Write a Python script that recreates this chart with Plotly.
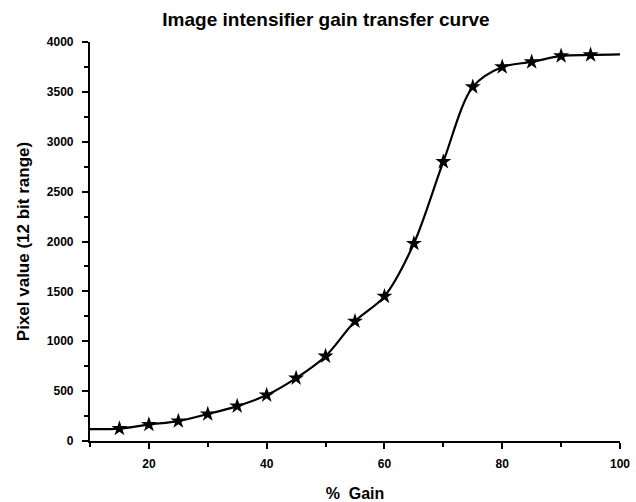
import plotly.graph_objects as go

# Data
gain_pct = [10, 15, 20, 25, 30, 35, 40, 45, 50, 55, 60, 65, 70, 75, 80, 85, 90, 95, 100]
pixel_value = [120, 125, 165, 200, 270, 350, 460, 630, 850, 1200, 1450, 1980, 2800, 3550, 3750, 3800, 3860, 3870, 3875]
marker_gain = [15, 20, 25, 30, 35, 40, 45, 50, 55, 60, 65, 70, 75, 80, 85, 90, 95]
marker_value = [125, 165, 200, 270, 350, 460, 630, 850, 1200, 1450, 1980, 2800, 3550, 3750, 3800, 3860, 3870]

title_text = "Image intensifier gain transfer curve"
x_title = "%  Gain"
y_title = "Pixel value (12 bit range)"

FONT = "Liberation Sans, Arial, sans-serif"

fig = go.Figure()
fig.add_trace(go.Scatter(
    x=gain_pct, y=pixel_value, mode="lines",
    line=dict(color="black", width=2.2, shape="spline", smoothing=0.9),
    showlegend=False, hoverinfo="skip",
))
fig.add_trace(go.Scatter(
    x=marker_gain, y=marker_value, mode="markers",
    marker=dict(symbol="star", size=12, color="black", line=dict(width=0)),
    showlegend=False,
))

fig.update_layout(
    width=636, height=502,
    margin=dict(l=90, r=16, t=42, b=61),
    paper_bgcolor="white", plot_bgcolor="white",
    font=dict(family=FONT, color="black"),
    title=dict(text="<b>" + title_text + "</b>", x=326 / 636, xref="container", xanchor="center",
               y=1 - 19 / 502, yref="container", yanchor="middle",
               font=dict(size=19, family=FONT, color="black")),
)
fig.update_xaxes(
    range=[10, 100], tick0=0, dtick=20, automargin=False,
    showgrid=False, zeroline=False,
    showline=True, linecolor="black", linewidth=2.2,
    ticks="outside", ticklen=6, tickwidth=2, tickcolor="black",
    minor=dict(dtick=10, tick0=0, ticks="outside", ticklen=4, tickwidth=2, tickcolor="black", showgrid=False),
    tickfont=dict(size=12, family=FONT, color="black", weight="bold"),
    ticklabelstandoff=4,
    title=dict(text="<b>" + x_title + "</b>", font=dict(size=16, family=FONT, color="black"), standoff=22),
)
fig.update_yaxes(
    range=[0, 4000], tick0=0, dtick=500, automargin=False,
    showgrid=False, zeroline=False,
    showline=True, linecolor="black", linewidth=2.2,
    ticks="outside", ticklen=6, tickwidth=2, tickcolor="black",
    minor=dict(dtick=250, tick0=0, ticks="outside", ticklen=4, tickwidth=2, tickcolor="black", showgrid=False),
    tickfont=dict(size=12, family=FONT, color="black", weight="bold"),
    ticklabelstandoff=6,
    title=dict(text="<b>" + y_title + "</b>", font=dict(size=17, family=FONT, color="black"), standoff=13),
)

fig.write_html("out.html")
